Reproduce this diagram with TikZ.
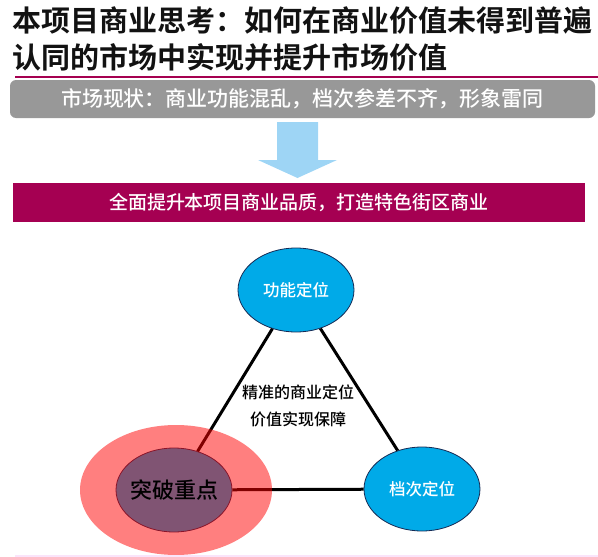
\documentclass[tikz,border=0pt]{standalone}
\usepackage{fontspec}
\setmainfont{Noto Sans CJK SC}[BoldFont=* Bold]
\newfontfamily\midfont{Noto Sans CJK SC Medium}
\usepackage{tikz}
\usetikzlibrary{positioning, shapes.geometric}
\definecolor{titleink}{RGB}{18,18,18}
\definecolor{rulemagenta}{RGB}{165,0,80}
\definecolor{boxgrey}{RGB}{152,152,152}
\definecolor{arrowblue}{RGB}{158,213,245}
\definecolor{barmagenta}{RGB}{165,0,82}
\definecolor{posblue}{RGB}{0,170,232}
\definecolor{posrim}{RGB}{22,42,84}
\definecolor{halored}{RGB}{255,0,0}
\definecolor{edgepink}{RGB}{250,228,250}

\begin{document}
\begin{tikzpicture}[x=1pt, y=-1pt,
    headline/.style={anchor=base west, inner sep=0pt, text=titleink,
                     font=\fontsize{29}{29}\selectfont\bfseries},
    statusbox/.style={fill=boxgrey, rounded corners=6pt, text=white, inner sep=0pt,
                      minimum width=585pt, minimum height=38pt,
                      font=\fontsize{21}{21}\selectfont\midfont},
    goalbar/.style={fill=barmagenta, text=white, inner sep=0pt,
                    minimum width=572pt, minimum height=39pt,
                    font=\fontsize{19}{19}\selectfont\midfont},
    posnode/.style={ellipse, draw=posrim, line width=0.8pt, fill=posblue, text=white,
                minimum width=116pt, minimum height=84pt, inner sep=0pt,
                font=\fontsize{16.5}{16.5}\selectfont\midfont},
    link/.style={draw=black, line width=3pt},
    halo/.style={ellipse, fill=halored, fill opacity=0.5,
                 minimum width=192pt, minimum height=130pt, inner sep=0pt},
    core/.style={align=center, inner sep=0pt,
                 font=\fontsize{16}{27}\selectfont\midfont}
  ]
  \useasboundingbox (0,0) rectangle (598,557);

  % heading
  \node[headline] (head1) at (12,31) {本项目商业思考：如何在商业价值未得到普遍};
  \node[headline] (head2) at (12,68) {认同的市场中实现并提升市场价值};
  \draw[rulemagenta, line width=1.2pt] (15,77) -- (598,77);

  \node[statusbox] (status) at (302.5,99) {市场现状：商业功能混乱，档次参差不齐，形象雷同};
  \fill[arrowblue] (277,122) -- (318,122) -- (318,160) -- (337,160)
    -- (297.5,178) -- (258,160) -- (277,160) -- cycle;
  \node[goalbar] (goal) at (299,202.5) {全面提升本项目商业品质，打造特色街区商业};

  % triangle of positions
  \node[posnode] (func) at (296,290) {功能定位};
  \node[posnode] (grade) at (422,489) {档次定位};
  \node[posnode] (focus) at (174,490) {};
  \draw[link] (func) -- (focus);
  \draw[link] (func) -- (grade);
  \draw[link] (focus) -- (grade);
  \node[core] (motto) at (298,406) {精准的商业定位\\价值实现保障};

  \node[halo] (glow) at (176,490) {};
  \node[font=\fontsize{22}{22}\selectfont\midfont, text=black] (focustext) at (focus) {突破重点};

  \draw[edgepink, line width=2pt] (15,556) -- (598,556);
\end{tikzpicture}
\end{document}
